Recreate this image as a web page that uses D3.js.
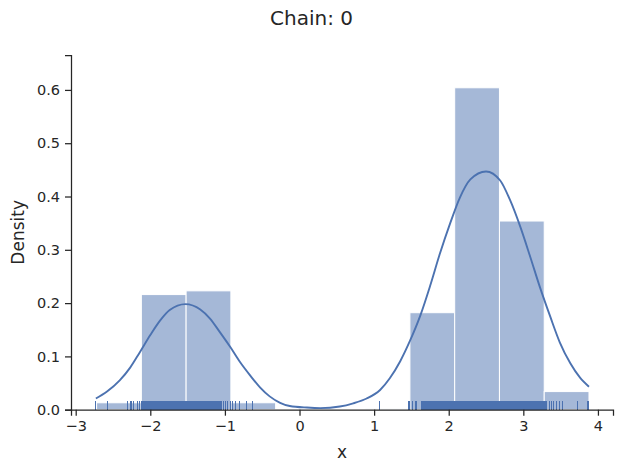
<!doctype html>
<html>
  <head>
    <meta charset="utf-8">
    <title>Chain: 0</title>
    <script src="https://d3js.org/d3.v7.min.js"></script>
    <style type="text/css">
      body { margin: 0; background-color: #ffffff }
      text { font-family: "DejaVu Sans", sans-serif; fill: #262626 }
    </style>
  </head>
  <body>
    <script>
      // histogram bin edges and heights (density)
      var binEdges = [-2.72, -2.12, -1.52, -0.92, -0.32, 0.28, 0.88, 1.48, 2.08, 2.68, 3.28, 3.88];
      var binDensity = [0.013, 0.216, 0.223, 0.013, 0, 0, 0.002, 0.182, 0.604, 0.354, 0.034];

      // kde curve
      var kdeX = [-2.73, -2.58, -2.41, -2.27, -2.14, -2.00, -1.87, -1.74, -1.53, -1.33, -1.20, -1.07, -0.93, -0.80,
                  -0.66, -0.53, -0.40, -0.26, -0.13, 0.10, 0.28, 0.54, 0.72, 0.90, 1.08, 1.21, 1.35, 1.48, 1.62,
                  1.75, 1.88, 2.02, 2.15, 2.29, 2.50, 2.69, 2.82, 2.96, 3.09, 3.22, 3.36, 3.49, 3.63, 3.76, 3.88];
      var kdeY = [0.021, 0.034, 0.055, 0.079, 0.108, 0.140, 0.167, 0.187, 0.198, 0.188, 0.171, 0.146, 0.118, 0.090,
                  0.064, 0.042, 0.025, 0.013, 0.007, 0.004, 0.003, 0.006, 0.012, 0.021, 0.037, 0.059, 0.091, 0.129, 0.177,
                  0.232, 0.292, 0.350, 0.398, 0.432, 0.447, 0.430, 0.394, 0.343, 0.288, 0.231, 0.175, 0.126, 0.087, 0.060, 0.043];

      // rug samples
      var rugX = [-2.73, -2.58, -2.30, -2.27, -2.25, -2.22, -2.17, -2.14, -2.12,
        -2.10, -2.09, -2.08, -2.07, -2.06, -2.05, -2.04, -2.03, -2.02, -2.01, -2.00, -1.99, -1.98, -1.97, -1.96,
        -1.95, -1.94, -1.93, -1.92, -1.91, -1.90, -1.89, -1.88, -1.87, -1.86, -1.85, -1.84, -1.83, -1.82, -1.81,
        -1.80, -1.79, -1.78, -1.77, -1.76, -1.75, -1.74, -1.73, -1.72, -1.71, -1.70, -1.69, -1.68, -1.67, -1.66,
        -1.65, -1.64, -1.63, -1.62, -1.61, -1.59, -1.58, -1.57, -1.56, -1.55, -1.54, -1.53, -1.52, -1.51,
        -1.50, -1.49, -1.48, -1.47, -1.46, -1.45, -1.44, -1.43, -1.42, -1.41, -1.40, -1.39, -1.38, -1.37, -1.36,
        -1.35, -1.34, -1.33, -1.32, -1.31, -1.30, -1.29, -1.28, -1.27, -1.26, -1.25, -1.24, -1.23, -1.22, -1.21,
        -1.20, -1.19, -1.18, -1.17, -1.16, -1.15, -1.14, -1.13, -1.12, -1.11, -1.10, -1.09, -1.08, -1.07, -1.06,
        -1.05, -1.04,
        -1.02, -0.99, -0.96, -0.93, -0.90, -0.86, -0.80, -0.71, -0.63,
        1.07, 1.46, 1.48, 1.51, 1.55, 1.57,
        1.63, 1.64, 1.65, 1.66, 1.67, 1.68, 1.69, 1.70, 1.71, 1.72, 1.73, 1.74, 1.75, 1.76, 1.77, 1.78, 1.79,
        1.80, 1.81, 1.82, 1.83, 1.84, 1.85, 1.86, 1.87, 1.88, 1.89, 1.90, 1.91, 1.92, 1.93, 1.94, 1.95, 1.96,
        1.97, 1.98, 1.99, 2.00, 2.01, 2.02, 2.03, 2.04, 2.05, 2.06, 2.07, 2.08, 2.09, 2.10, 2.11, 2.12, 2.13,
        2.14, 2.15, 2.16, 2.17, 2.18, 2.19, 2.20, 2.21, 2.22, 2.23, 2.24, 2.25, 2.26, 2.27, 2.28, 2.29, 2.30,
        2.31, 2.32, 2.33, 2.34, 2.35, 2.36, 2.37, 2.38, 2.39, 2.40, 2.41, 2.42, 2.43, 2.44, 2.45, 2.46, 2.47,
        2.48, 2.49, 2.50, 2.51, 2.52, 2.53, 2.54, 2.55, 2.56, 2.57, 2.58, 2.59, 2.60, 2.61, 2.62, 2.63, 2.64,
        2.65, 2.66, 2.67, 2.68, 2.69, 2.70, 2.71, 2.72, 2.73, 2.74, 2.75, 2.76, 2.77, 2.78, 2.79, 2.80, 2.81,
        2.82, 2.83, 2.84, 2.85, 2.86, 2.87, 2.88, 2.89, 2.90, 2.91, 2.92, 2.93, 2.94, 2.95, 2.96, 2.97, 2.98,
        2.99, 3.00, 3.01, 3.02, 3.03, 3.04, 3.05, 3.06, 3.07, 3.08, 3.09, 3.10, 3.11, 3.12, 3.13, 3.14, 3.15,
        3.16, 3.17, 3.18, 3.19, 3.20, 3.21, 3.22, 3.23, 3.24, 3.25, 3.26, 3.27, 3.28, 3.29, 3.30, 3.31,
        3.35, 3.38, 3.41, 3.45, 3.48, 3.52, 3.72, 3.86, 3.88];

      var xTicks = [-3, -2, -1, 0, 1, 2, 3, 4];
      var yTicks = [0.0, 0.1, 0.2, 0.3, 0.4, 0.5, 0.6];

      var w = 623, h = 472;
      var mLeft = 71, mRight = 613, mTop = 55, mBottom = 409.7;
      var blue = "#4c72b0", dark = "#262626";

      var x = d3.scaleLinear().domain([-3.063, 4.202]).range([mLeft, mRight]);
      var y = d3.scaleLinear().domain([0, 0.6655]).range([mBottom, mTop]);

      var svg = d3.select("body").append("svg")
        .attr("width", w)
        .attr("height", h);

      // histogram
      var bins = binDensity.map(function(d, i) {
        return { x0: binEdges[i], x1: binEdges[i + 1], v: d };
      });
      svg.append("g").selectAll("rect")
        .data(bins)
        .enter().append("rect")
        .attr("x", function(d) { return x(d.x0); })
        .attr("width", function(d) { return x(d.x1) - x(d.x0); })
        .attr("y", function(d) { return y(d.v); })
        .attr("height", function(d) { return y(0) - y(d.v); })
        .style("fill", blue)
        .style("fill-opacity", 0.5)
        .style("stroke", "#ffffff")
        .style("stroke-width", 1);

      // kde line
      var line = d3.line()
        .x(function(d, i) { return x(kdeX[i]); })
        .y(function(d) { return y(d); })
        .curve(d3.curveMonotoneX);
      svg.append("path")
        .attr("d", line(kdeY))
        .style("fill", "none")
        .style("stroke", blue)
        .style("stroke-width", 1.9);

      // rug
      svg.append("g")
        .attr("shape-rendering", "crispEdges")
        .selectAll("line")
        .data(rugX)
        .enter().append("line")
        .attr("x1", function(d) { return x(d); })
        .attr("x2", function(d) { return x(d); })
        .attr("y1", mBottom)
        .attr("y2", mBottom - 9)
        .style("stroke", blue)
        .style("stroke-width", 1);

      // axes
      var xAxis = svg.append("g")
        .attr("transform", "translate(0," + mBottom + ")")
        .call(d3.axisBottom(x).tickValues(xTicks).tickFormat(d3.format("d")).tickSizeOuter(0).tickSize(6).tickPadding(5));
      var yAxis = svg.append("g")
        .attr("transform", "translate(" + mLeft + ",0)")
        .call(d3.axisLeft(y).tickValues(yTicks).tickFormat(d3.format(".1f")).tickSizeOuter(0).tickSize(6).tickPadding(5));

      [xAxis, yAxis].forEach(function(a) {
        a.attr("font-size", null).attr("font-family", null);
        a.select(".domain").style("stroke", dark).style("stroke-width", 1.25);
        a.selectAll(".tick line").style("stroke", dark).style("stroke-width", 1.25);
        a.selectAll(".tick text").attr("font-size", 14.5).style("font-size", "14.5px").style("fill", dark);
      });

      // labels
      svg.append("text")
        .attr("x", (mLeft + mRight) / 2)
        .attr("y", 458)
        .attr("text-anchor", "middle")
        .style("font-size", "17px")
        .text("x");
      svg.append("text")
        .attr("transform", "translate(24," + ((mTop + mBottom) / 2) + ") rotate(-90)")
        .attr("text-anchor", "middle")
        .style("font-size", "17px")
        .text("Density");
      svg.append("text")
        .attr("x", w / 2)
        .attr("y", 25)
        .attr("text-anchor", "middle")
        .style("font-size", "20px")
        .text("Chain: 0");
    </script>
  </body>
</html>
